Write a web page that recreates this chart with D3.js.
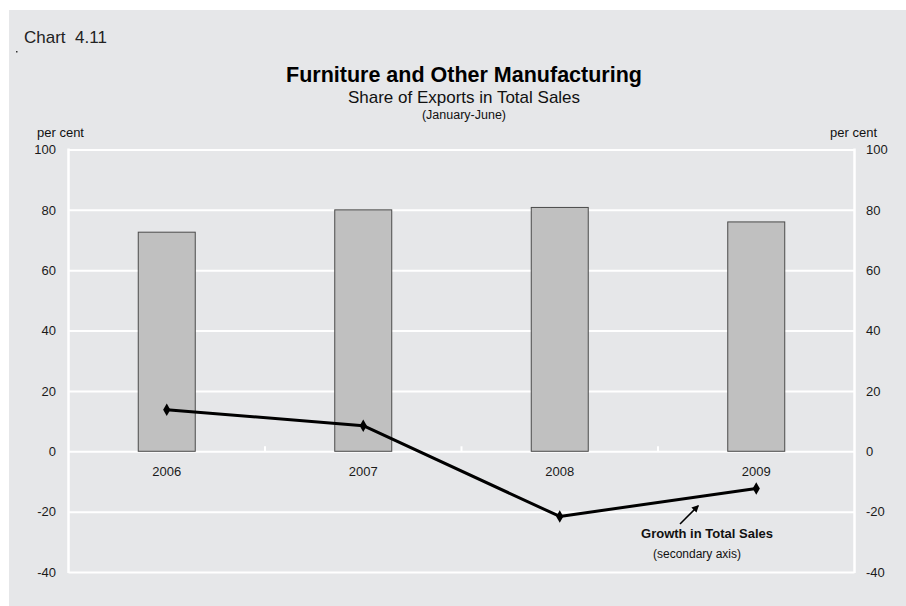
<!DOCTYPE html>
<html>
<head>
<meta charset="utf-8">
<script src="https://cdn.jsdelivr.net/npm/d3@7"></script>
<style>
  html, body { margin: 0; padding: 0; background: #ffffff; }
  svg { display: block; font-family: "Liberation Sans", Arial, sans-serif; }
</style>
</head>
<body>
<svg id="chart" width="906" height="606"></svg>
<script>
// Furniture and Other Manufacturing: export share (bars, left axis)
// and growth in total sales (line, right axis), January-June.
const years = ["2006", "2007", "2008", "2009"];
const exportShare = [72.6, 80.0, 80.8, 76.0];     // per cent of total sales
const salesGrowth = [13.8, 8.5, -21.6, -12.3];    // per cent, secondary axis
const yTicks = [100, 80, 60, 40, 20, 0, -20, -40];
const yDomain = [-40, 100];

const svg = d3.select("#chart");
const W = 906, H = 606;
const plot = { left: 68.5, right: 854.5, top: 149.5, bottom: 572 };
const tickText = d => String(d);   // plain hyphen for negatives

// panel background
svg.append("rect")
  .attr("x", 9).attr("y", 10)
  .attr("width", W - 9).attr("height", H - 10)
  .attr("fill", "#e6e7e9");

const x = d3.scaleBand()
  .domain(years)
  .range([plot.left, plot.right])
  .paddingInner(0.71)
  .paddingOuter(0.355);

const y = d3.scaleLinear().domain(yDomain).range([plot.bottom, plot.top]);
const y2 = d3.scaleLinear().domain(yDomain).range([plot.bottom, plot.top]);

// white gridlines
const grid = svg.append("g")
  .attr("transform", `translate(${plot.left},0)`)
  .call(d3.axisLeft(y).tickValues(yTicks).tickSize(-(plot.right - plot.left)).tickFormat(""));
grid.select(".domain").remove();
grid.selectAll(".tick line").attr("stroke", "#ffffff").attr("stroke-width", 2);

// white side borders of the plot area
[plot.left, plot.right].forEach(px => {
  svg.append("line")
    .attr("x1", px).attr("x2", px)
    .attr("y1", plot.top - 1).attr("y2", plot.bottom + 1)
    .attr("stroke", "#ffffff").attr("stroke-width", 2.5);
});

// small white ticks between categories on the zero line
const bounds = years.slice(1).map(d => x(d) - x.step() * x.paddingInner() / 2);
svg.append("g").selectAll("line").data(bounds).join("line")
  .attr("x1", d => d).attr("x2", d => d)
  .attr("y1", y(0) - 5).attr("y2", y(0))
  .attr("stroke", "#ffffff").attr("stroke-width", 2);

// bars
svg.append("g").selectAll("rect").data(years).join("rect")
  .attr("x", d => x(d))
  .attr("y", (d, i) => y(exportShare[i]))
  .attr("width", x.bandwidth())
  .attr("height", (d, i) => y(0) - y(exportShare[i]))
  .attr("fill", "#c0c0c0")
  .attr("stroke", "#4a4a4a")
  .attr("stroke-width", 1);

// left axis labels
const axL = svg.append("g")
  .attr("transform", `translate(${plot.left},0)`)
  .call(d3.axisLeft(y).tickValues(yTicks).tickSize(0).tickPadding(12.5).tickFormat(tickText));
axL.select(".domain").remove();
axL.selectAll("text").attr("font-size", 13).attr("fill", "#1a1a1a")
  .attr("font-family", "Liberation Sans, Arial, sans-serif");

// right axis labels
const axR = svg.append("g")
  .attr("transform", `translate(${plot.right},0)`)
  .call(d3.axisRight(y2).tickValues(yTicks).tickSize(0).tickPadding(11.5).tickFormat(tickText));
axR.select(".domain").remove();
axR.selectAll("text").attr("font-size", 13).attr("fill", "#1a1a1a")
  .attr("font-family", "Liberation Sans, Arial, sans-serif");

// category labels below the zero line
const axB = svg.append("g")
  .attr("transform", `translate(0,${y(0)})`)
  .call(d3.axisBottom(x).tickSize(0).tickPadding(15));
axB.select(".domain").remove();
axB.selectAll("text").attr("font-size", 13).attr("fill", "#1a1a1a")
  .attr("font-family", "Liberation Sans, Arial, sans-serif");

// growth line with diamond markers
const cx = d => x(d) + x.bandwidth() / 2;
const line = d3.line().x(d => cx(d.year)).y(d => y2(d.value));
const pts = years.map((yr, i) => ({ year: yr, value: salesGrowth[i] }));
svg.append("path")
  .datum(pts)
  .attr("d", line)
  .attr("fill", "none")
  .attr("stroke", "#000000")
  .attr("stroke-width", 3)
  .attr("stroke-linejoin", "round");
svg.append("g").selectAll("path").data(pts).join("path")
  .attr("d", d3.symbol(d3.symbolDiamond, 45))
  .attr("transform", d => `translate(${cx(d.year)},${y2(d.value)})`)
  .attr("fill", "#000000");

// titles
const midX = 464;
svg.append("text").attr("x", midX).attr("y", 82)
  .attr("text-anchor", "middle").attr("font-size", 21.5).attr("font-weight", "bold")
  .attr("fill", "#000000").text("Furniture and Other Manufacturing");
svg.append("text").attr("x", midX).attr("y", 103)
  .attr("text-anchor", "middle").attr("font-size", 17)
  .attr("fill", "#111111").text("Share of Exports in Total Sales");
svg.append("text").attr("x", midX).attr("y", 119)
  .attr("text-anchor", "middle").attr("font-size", 12.5)
  .attr("fill", "#111111").text("(January-June)");

svg.append("text").attr("x", 24).attr("y", 43)
  .attr("font-size", 17).attr("fill", "#222222")
  .text("Chart  4.11").style("white-space", "pre");
svg.append("rect").attr("x", 16).attr("y", 51).attr("width", 1.5).attr("height", 1.5).attr("fill", "#333333");

svg.append("text").attr("x", 37).attr("y", 137)
  .attr("font-size", 13).attr("fill", "#111111").text("per cent");
svg.append("text").attr("x", 877).attr("y", 137).attr("text-anchor", "end")
  .attr("font-size", 13).attr("fill", "#111111").text("per cent");

// annotation for the line series
const defs = svg.append("defs");
defs.append("marker")
  .attr("id", "arrowhead")
  .attr("viewBox", "0 0 10 10")
  .attr("refX", 8).attr("refY", 5)
  .attr("markerWidth", 4.5).attr("markerHeight", 4.5)
  .attr("orient", "auto")
  .append("path").attr("d", "M0,0 L10,5 L0,10 z").attr("fill", "#000000");
svg.append("line")
  .attr("x1", 680).attr("y1", 524).attr("x2", 698).attr("y2", 506)
  .attr("stroke", "#000000").attr("stroke-width", 1.6)
  .attr("marker-end", "url(#arrowhead)");
svg.append("text").attr("x", 707).attr("y", 538)
  .attr("text-anchor", "middle").attr("font-size", 13).attr("font-weight", "bold")
  .attr("fill", "#111111").text("Growth in Total Sales");
svg.append("text").attr("x", 697).attr("y", 558)
  .attr("text-anchor", "middle").attr("font-size", 12)
  .attr("fill", "#111111").text("(secondary axis)");
</script>
</body>
</html>
